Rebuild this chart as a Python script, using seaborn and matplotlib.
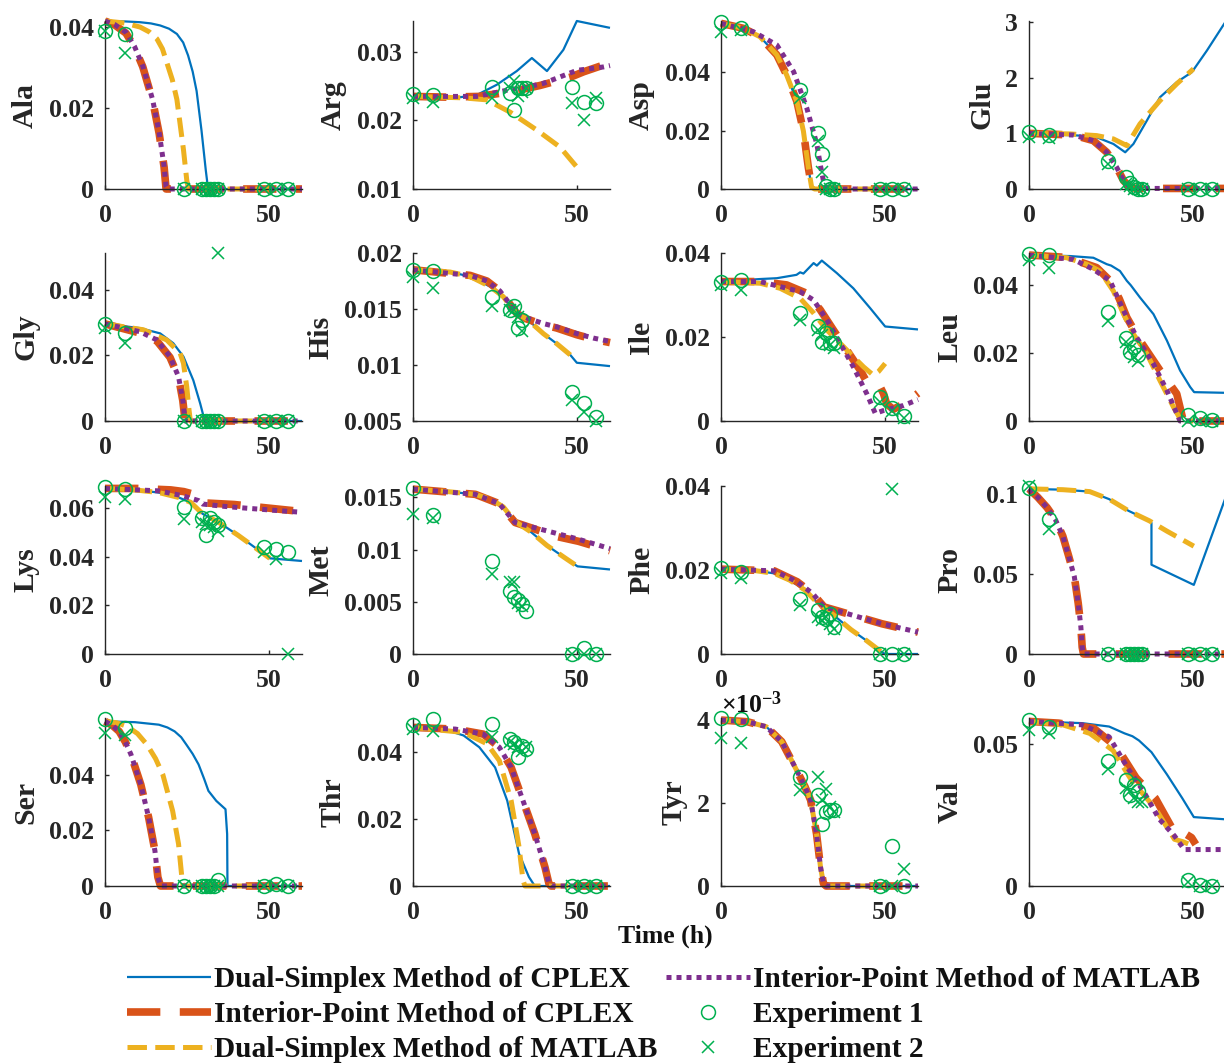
import matplotlib
matplotlib.use("Agg")
import matplotlib.pyplot as plt
import seaborn as sns

nan = float("nan")

# ---------------------------------------------------------------------------
# Data: simulated concentration profiles (time h, value) for the four solvers
# and the two experimental replicates sampled at T_EXP.
# ---------------------------------------------------------------------------
T_EXP = [0, 6, 24, 29.5, 30.7, 31.9, 33.1, 34.5, 48.3, 52.2, 55.8]

AMINO_ACIDS = ["Ala", "Arg", "Asp", "Glu", "Gly", "His", "Ile", "Leu",
               "Lys", "Met", "Phe", "Pro", "Ser", "Thr", "Tyr", "Val"]

METHODS = ["Dual-Simplex Method of CPLEX", "Interior-Point Method of CPLEX",
           "Dual-Simplex Method of MATLAB", "Interior-Point Method of MATLAB"]
EXPERIMENTS = ["Experiment 1", "Experiment 2"]

# Ala
ALA_DSC = [(0, .0415), (6, .0414), (10.7, .0412), (14, .0409), (16.8, .0404), (19.5, .0396),
           (21.9, .0383), (23.8, .0362), (25.3, .033), (26.7, .0290), (27.9, .0242),
           (29.4, .0144), (30.7, .0046), (31.4, 0), (60, 0)]
ALA_IPC = [(0, .0415), (3, .0405), (6.4, .0385), (9, .0350), (11.5, .0302), (14.5, .0219),
           (16.5, .0137), (18, .0054), (18.6, 0), (60, 0)]
ALA_DSM = [(0, .0415), (6, .0410), (10.7, .040), (13.5, .0388), (15.8, .0371), (17.5, .0346),
           (18.8, .0313), (20.5, .0270), (21.9, .0221), (23.9, .0097), (24.9, .0022), (25.4, 0),
           (50, 0)]
ALA_IPM = [(0, .0415), (3, .0406), (6.4, .0387), (9, .0352), (11.5, .0304), (14.5, .0221),
           (16.5, .0139), (18, .0056), (18.6, .0006), (19, 0), (60, 0)]
ALA_EXP1 = [.0391, .0383, 0, 0, 0, 0, 0, 0, 0, 0, 0]
ALA_EXP2 = [.039, .0337, 0, 0, 0, 0, 0, 0, 0, 0, 0]

# Arg
ARG_DSC = [(0, .0235), (11.3, .0232), (19.4, .0237), (25.5, .0252), (31.6, .0272), (36.2, .0291),
           (40.8, .0272), (45.8, .0303), (49.9, .0345), (60, .0335)]
ARG_IPC = [(0, .0235), (10, .0234), (20, .0235), (28.6, .0241), (32, .0244), (38.7, .0251),
           (47.9, .0263), (52, .0271), (60, .0284)]
ARG_DSM = [(0, .0235), (15, .0233), (22.5, .023), (29.6, .0212), (37.7, .0186), (44.8, .0161),
           (49.9, .0132)]
ARG_IPM = [(0, .0235), (19.4, .0235), (29.6, .0245), (34, .0248), (39.7, .0254), (49.9, .0273),
           (58, .0278), (60, .028)]
ARG_EXP1 = [.0239, .0237, .0249, .024, .0215, .0247, .0247, .0247, .0249, .0227, .0225]
ARG_EXP2 = [.0232, .0227, .0232, .0247, .0257, .0235, .0242, .0247, .0225, .020, .0232]

# Asp
ASP_DSC = [(0, .0567), (6.8, .055), (11.9, .0521), (17, .0459), (20, .039), (23.1, .030),
           (25.1, .0198), (26.6, .0074), (27.6, .0006), (28.5, 0), (60, 0)]
ASP_IPC = [(0, .0567), (6.8, .055), (11.9, .0521), (17, .0459), (20, .039), (23.1, .030),
           (25.1, .0198), (26.6, .0074), (27.6, .0006), (28.5, 0), (60, 0)]
ASP_DSM = [(0, .0567), (6.8, .055), (11.9, .0521), (17, .0459), (20, .039), (23.1, .030),
           (25.1, .0198), (26.6, .0074), (27.6, .0006), (28.5, 0), (50, 0)]
ASP_IPM = [(0, .0567), (9.9, .0538), (17, .0493), (22.1, .0402), (26.1, .0278), (29.2, .0153),
           (30.2, .0085), (31.2, .0028), (32.2, 0), (60, 0)]
ASP_EXP1 = [.057, .0552, .034, .0193, .0119, .0011, 0, 0, 0, 0, 0]
ASP_EXP2 = [.0538, .0544, .0312, .0164, .0057, 0, 0, 0, 0, 0, 0]

# Glu
GLU_DSC = [(0, 1.0), (15.5, .96), (20.6, .93), (25.7, .81), (29.3, .66), (31.8, .81), (35.9, 1.23),
           (39.9, 1.65), (45, 1.92), (49.6, 2.1), (54.2, 2.49), (60, 3.02)]
GLU_IPC = [(0, 1.0), (13.5, .97), (19.6, .87), (23.7, .66), (26.7, .39), (28.8, .15), (30.8, .03),
           (32.8, .01), (60, .01)]
GLU_DSM = [(0, 1.0), (12.5, .99), (20.6, .96), (25.7, .9), (29.8, .78), (33.8, 1.17), (39.9, 1.59),
           (45, 1.89), (50.1, 2.16)]
GLU_IPM = [(0, 1.0), (13.5, .97), (19.6, .87), (23.7, .66), (26.7, .39), (28.8, .15), (30.8, .03),
           (32.8, .01), (60, .01)]
GLU_EXP1 = [1.02, .97, .51, .21, .10, .03, 0, 0, 0, 0, 0]
GLU_EXP2 = [.93, .91, .45, .09, .05, 0, 0, 0, 0, 0, 0]

# Gly
GLY_DSC = [(0, .0296), (10.7, .0283), (16.8, .0267), (20.8, .0237), (23.9, .0196), (26.9, .0124),
           (29, .0053), (30.2, .0007), (30.5, 0), (60, 0)]
GLY_IPC = [(0, .0296), (10.7, .0268), (15.8, .0244), (19.8, .0194), (22.4, .0133), (23.7, .0062),
           (24.4, 0), (60, 0)]
GLY_DSM = [(0, .0296), (11.7, .0278), (18.8, .0247), (22.9, .0206), (23.9, .0176), (24.9, .0104),
           (25.6, .0033), (26, 0), (50, 0)]
GLY_IPM = [(0, .0296), (10.7, .0272), (15.8, .0247), (19.8, .0196), (22.4, .0135), (23.7, .0063),
           (24.4, 0), (60, 0)]
GLY_EXP1 = [.0296, .0267, 0, 0, 0, 0, 0, 0, 0, 0, 0]
GLY_EXP2 = [.0283, .0237, 0, 0, 0, 0, 0, .0512, 0, 0, 0]

# His
HIS_DSC = [(0, .0185), (11.3, .0183), (17.4, .0179), (23.5, .017), (27.5, .0161), (30.6, .0149),
           (32.1, .0145), (34.7, .0141), (39.7, .0128), (43.8, .0119), (47.9, .0109), (49.9, .0102),
           (60, .0099)]
HIS_IPC = [(0, .0185), (17.4, .018), (22.5, .0175), (26.5, .0166), (29.6, .0154), (31.6, .0146),
           (34.7, .0141), (39.7, .0136), (43.8, .0133), (49.9, .0127), (55, .0123), (60, .012)]
HIS_DSM = [(0, .0185), (11.3, .0183), (17.4, .0179), (23.5, .017), (27.5, .0161), (30.6, .0149),
           (32.1, .0145), (34.7, .0141), (39.7, .0128), (43.8, .0119), (47.9, .0109), (49, .0106)]
HIS_IPM = [(0, .0185), (17.4, .018), (22.5, .0175), (26.5, .0166), (29.6, .0154), (31.6, .0146),
           (34.7, .0142), (39.7, .0137), (43.8, .0134), (49.9, .0128), (55, .0124), (60, .0121)]
HIS_EXP1 = [.0185, .0184, .0161, .0149, .0153, .0133, .014, nan, .0076, .0066, .0054]
HIS_EXP2 = [.0179, .0169, .0153, .0149, .0149, .0143, .013, nan, .0069, .0058, .005]

# Ile
ILE_DSC = [(0, .0332), (11.9, .0338), (17, .034), (20, .0344), (23, .0348), (24.1, .0354),
           (25.1, .0351), (28.2, .0376), (29.2, .037), (30.7, .0382), (35.3, .0352), (40.3, .0316),
           (45.4, .0269), (50, .0225), (60, .0218)]
ILE_IPC = [(0, .0332), (11.9, .0332), (20, .0324), (26.1, .0304), (30.2, .0265), (34.2, .0217),
           (38.3, .0169), (42.4, .0121), (44.4, .0093), (46.5, .0082), (48.5, .0081), (49.5, .0065),
           (50.5, .004), (52.5, .0028), (56, .0042), (60, .0066)]
ILE_DSM = [(0, .0332), (11.9, .0328), (18, .0316), (24.1, .0292), (28.2, .0257), (32.2, .0217),
           (36.3, .0185), (40.3, .0153), (43.4, .0129), (46.4, .0109), (48, .0118), (50, .0137)]
ILE_IPM = [(0, .0332), (11.9, .0332), (18, .032), (24.1, .0308), (28.2, .0288), (32.2, .0241),
           (36.3, .0185), (40.3, .0129), (44.4, .0065), (47, .0018), (49.5, .0025), (55.6, .0037),
           (60, .0051)]
ILE_EXP1 = [.033, .0335, .0257, .0225, .0189, .0209, .0185, .0185, .0057, .003, .0011]
ILE_EXP2 = [.0324, .0312, .0241, .0217, .0205, .0189, .0181, .0173, .0045, .0025, .0008]

# Leu
LEU_DSC = [(0, .0489), (12.5, .0486), (19.6, .0481), (23.7, .0462), (25, .0458), (27.7, .0442),
           (29.8, .0413), (31, .040), (33.8, .0364), (37.9, .0315), (42, .0237), (46, .0149),
           (49.1, .010), (50.3, .0085), (60, .0083)]
LEU_IPC = [(0, .0489), (11.5, .0482), (20.6, .0452), (24.7, .0413), (27.5, .036), (29.8, .0305),
           (33.8, .0237), (39.9, .0149), (45, .008), (47, 0), (60, 0)]
LEU_DSM = [(0, .0489), (11.5, .0481), (17.6, .0462), (21.6, .0442), (25.7, .0383), (28.8, .0315),
           (31.8, .0256), (35.9, .0198), (39.9, .0119), (44, .0041), (46, .0007), (47, 0), (50, 0)]
LEU_IPM = [(0, .0489), (13.5, .0476), (19.6, .0447), (24.7, .0413), (28.8, .0325), (32.8, .0246),
           (37.9, .0168), (42, .009), (45, .0022), (46, 0), (60, 0)]
LEU_EXP1 = [.0491, .0489, .032, .0246, .0202, .0217, .0193, nan, .0017, .0009, .0004]
LEU_EXP2 = [.0473, .0452, .0295, .0232, .0212, .0188, .0178, nan, 0, 0, 0]

# Lys
LYS_DSC = [(0, .068), (9.1, .0674), (16.4, .0663), (22.4, .0643), (26.1, .0623), (29.7, .0576),
           (34.5, .0542), (40.6, .0487), (45.4, .044), (50.2, .0393), (60, .0382)]
LYS_IPC = [(0, .068), (9.7, .068), (20, .0674), (24, .0667), (27.3, .0655), (29.1, .0639),
           (31, .062), (39.3, .0614), (47.8, .0602), (60, .0585)]
LYS_DSM = [(0, .068), (9.1, .0674), (16.4, .0663), (22.4, .0643), (26.1, .0623), (29.7, .0576),
           (34.5, .0542), (40.6, .0487), (45.4, .044), (50.2, .0393)]
LYS_IPM = [(0, .068), (16.4, .067), (23.6, .065), (28.5, .063), (29.7, .0616), (35.7, .0607),
           (43, .0599), (52.7, .0589), (60, .0582)]
LYS_EXP1 = [.0684, .0677, .0603, .0558, .0487, .0558, .0542, .0531, .044, .0433, .042]
LYS_EXP2 = [.0643, .0636, .0555, .0544, .0535, .0528, .0521, .0504, .042, .039, 0]

# Met
MET_DSC = [(0, .0158), (9.3, .0156), (19, .0153), (23.8, .0148), (27.5, .0141), (31.1, .0127),
           (35.9, .0117), (40.8, .0104), (46.8, .0091), (50.1, .0084), (60, .0081)]
MET_IPC = [(0, .0158), (19, .0153), (26.3, .0144), (31.1, .0126), (35.9, .0121), (43.2, .0113),
           (50.4, .0108), (60, .0099)]
MET_DSM = [(0, .0158), (9.3, .0156), (19, .0153), (23.8, .0148), (27.5, .0141), (31.1, .0127),
           (35.9, .0117), (40.8, .0104), (46.8, .0091), (50.1, .0084)]
MET_IPM = [(0, .0158), (19, .0153), (26.3, .0144), (31.1, .0126), (35.9, .0122), (43.2, .0116),
           (50.4, .011), (60, .0101)]
MET_EXP1 = [.0159, .0133, .0089, .006, .0055, .0052, .0048, .0041, 0, .0006, 0]
MET_EXP2 = [.0134, .013, .0077, .0069, .0069, .0049, .0046, nan, 0, 0, 0]

# Phe
PHE_DSC = [(0, .0202), (9.1, .020), (16.2, .0192), (20.9, .0176), (25.6, .0152), (29.1, .0124),
           (32, .0108), (35, .0088), (39.6, .0058), (44.3, .0032), (49, .0004), (50, 0), (60, 0)]
PHE_IPC = [(0, .0202), (16.2, .0198), (23.2, .0172), (27.9, .0144), (31.4, .0112), (35, .0104),
           (42, .0088), (49, .0072), (60, .0052)]
PHE_DSM = [(0, .0202), (9.1, .020), (16.2, .0192), (20.9, .0176), (25.6, .0152), (29.1, .0124),
           (32, .0108), (35, .0088), (39.6, .0058), (44.3, .0032), (49, .0004), (50, 0)]
PHE_IPM = [(0, .0202), (16.2, .0198), (23.2, .0172), (27.9, .0144), (31.4, .0112), (35, .0104),
           (42, .0088), (49, .0072), (60, .0052)]
PHE_EXP1 = [.0204, .0196, .0132, .0104, .0088, .0084, .0096, .0064, 0, 0, 0]
PHE_EXP2 = [.0192, .018, .0116, .0088, .008, .0088, .0072, .006, 0, .0392, 0]

# Pro
PRO_DSC = [(0, .1032), (10.3, .1027), (18.5, .1015), (24.4, .0968), (30.3, .0895), (36.7, .0832),
           (37.3, .082), (37.3, .0558), (50.2, .0432), (60, .0985)]
PRO_IPC = [(0, .1032), (2.7, .0979), (5.5, .0915), (8, .0842), (10.3, .0737), (12.1, .0611),
           (13.8, .0484), (15, .0316), (15.8, .0168), (16.2, .0042), (16.6, 0), (60, 0)]
PRO_DSM = [(0, .1032), (10.3, .1027), (18.5, .1015), (24.4, .0968), (30.3, .0895), (36.7, .0832),
           (42, .0768), (50.2, .0674)]
PRO_IPM = [(0, .1032), (2.7, .0979), (5.5, .0915), (8, .0842), (10.3, .0737), (12.1, .0611),
           (13.8, .0484), (15, .0316), (15.8, .0168), (16.2, .0042), (16.6, 0), (60, 0)]
PRO_EXP1 = [.1036, .0842, 0, 0, 0, 0, 0, 0, 0, 0, 0]
PRO_EXP2 = [.1048, .0779, 0, 0, 0, 0, 0, 0, 0, 0, 0]

# Ser
SER_DSC = [(0, .0592), (9.1, .0589), (16.4, .058), (19, .0570), (21.2, .0556), (23.2, .0535),
           (24.8, .0508), (26.7, .0475), (28.5, .0437), (30.2, .0385), (31.5, .0342), (33.9, .0306),
           (36.7, .0276), (37.2, .0187), (37.3, 0), (60, 0)]
SER_IPC = [(0, .0592), (2.2, .0578), (4.3, .0556), (6.2, .0518), (7.9, .0473), (10.9, .0365),
           (13.3, .0246), (15.2, .0127), (16.1, .0032), (16.9, 0), (60, 0)]
SER_DSM = [(0, .0592), (3.5, .0587), (6.7, .0574), (9.9, .0548), (12.8, .0508), (15.4, .0458),
           (17.6, .0401), (20.6, .027), (22.4, .0151), (23.4, .0032), (23.8, 0), (50, 0)]
SER_IPM = [(0, .0592), (2.2, .0578), (4.3, .0556), (6.2, .0518), (7.9, .0473), (10.9, .0365),
           (13.3, .0246), (15.2, .0127), (16.1, .0032), (16.9, 0), (60, 0)]
SER_EXP1 = [.0601, .0568, 0, 0, 0, 0, 0, .002, 0, .0008, 0]
SER_EXP2 = [.055, .0544, 0, 0, 0, 0, 0, 0, 0, 0, 0]

# Thr
THR_DSC = [(0, .0472), (9.3, .0467), (15.4, .0448), (20.2, .0413), (25, .0353), (28.7, .0254),
           (32.3, .0096), (35.3, .0027), (37.1, 0), (60, 0)]
THR_IPC = [(0, .0472), (12.9, .0467), (21.4, .0452), (26.3, .0413), (29.9, .0353), (33.5, .0254),
           (37.1, .0155), (40.2, .0056), (41.4, .0007), (42, 0), (60, 0)]
THR_DSM = [(0, .0472), (15.4, .0457), (22.6, .0423), (26.3, .0373), (29.9, .0254), (32.3, .0116),
           (33.5, .0017), (34.1, 0), (50, 0)]
THR_IPM = [(0, .0472), (12.9, .0467), (21.4, .0452), (26.3, .0413), (29.9, .0353), (33.5, .0254),
           (37.1, .0155), (40.2, .0056), (41.4, .0007), (42, 0), (60, 0)]
THR_EXP1 = [.048, .0497, .0482, .0438, .0428, .0383, .0418, .0408, 0, 0, 0]
THR_EXP2 = [.0467, .0462, .0443, .0428, .0423, .0413, .0403, .0413, 0, 0, 0]

# Tyr (x 10^-3)
TYR_DSC = [(0, 4.0), (8, 3.96), (13.8, 3.84), (18.5, 3.48), (22, 2.95), (25.6, 2.39), (27.3, 2.07),
           (29.1, 1.26), (30.3, .46), (31.2, .06), (32, 0), (60, 0)]
TYR_IPC = [(0, 4.0), (8, 3.96), (13.8, 3.84), (18.5, 3.48), (22, 2.95), (25.6, 2.39), (27.3, 2.07),
           (29.1, 1.26), (30.3, .46), (31.2, .06), (32, 0), (60, 0)]
TYR_DSM = [(0, 4.0), (8, 3.96), (13.8, 3.84), (18.5, 3.48), (22, 2.95), (25.6, 2.39), (27.3, 2.07),
           (29.1, 1.26), (30.3, .46), (31.2, .06), (32, 0), (50, 0)]
TYR_IPM = [(0, 4.0), (8, 3.96), (13.8, 3.84), (18.5, 3.48), (22, 2.95), (25.6, 2.39), (27.3, 2.07),
           (29.1, 1.26), (30.3, .46), (31.2, .06), (32, 0), (60, 0)]
TYR_EXP1 = [4.04, 4.02, 2.62, 2.19, 1.5, 1.79, 1.83, 1.83, 0, .97, 0]
TYR_EXP2 = [3.56, 3.45, 2.31, 2.62, 2.07, 2.35, 1.91, 1.79, 0, 0, .42]

# Val
VAL_DSC = [(0, .0578), (16.2, .0572), (24.4, .056), (29.1, .0536), (31.5, .0526), (33.5, .0511),
           (37.3, .047), (42, .0392), (46.7, .0308), (50.2, .0242), (60, .0234)]
VAL_IPC = [(0, .0578), (9, .0572), (19.7, .0554), (26.7, .0488), (32.6, .038), (38.5, .0308),
           (44.3, .0188), (46, .0184), (47.8, .0182), (49.5, .017), (50.8, .0146)]
VAL_DSM = [(0, .0578), (10.3, .0566), (18.5, .0536), (25.6, .0476), (31.4, .0368), (38.5, .0272),
           (44.3, .0164), (47, .0155), (50.2, .014)]
VAL_IPM = [(0, .0578), (16.2, .0566), (24.4, .0524), (30.3, .041), (34.9, .0332), (39.6, .0236),
           (44.3, .0176), (47.3, .0128), (60, .0128)]
VAL_EXP1 = [.0582, .056, .044, .0374, .032, .0356, .0332, nan, .002, .0003, 0]
VAL_EXP2 = [.0548, .0536, .041, .0344, .0332, .0308, .0296, .0294, .0014, 0, 0]

SIMULATIONS = {
    "Ala": (ALA_DSC, ALA_IPC, ALA_DSM, ALA_IPM), "Arg": (ARG_DSC, ARG_IPC, ARG_DSM, ARG_IPM),
    "Asp": (ASP_DSC, ASP_IPC, ASP_DSM, ASP_IPM), "Glu": (GLU_DSC, GLU_IPC, GLU_DSM, GLU_IPM),
    "Gly": (GLY_DSC, GLY_IPC, GLY_DSM, GLY_IPM), "His": (HIS_DSC, HIS_IPC, HIS_DSM, HIS_IPM),
    "Ile": (ILE_DSC, ILE_IPC, ILE_DSM, ILE_IPM), "Leu": (LEU_DSC, LEU_IPC, LEU_DSM, LEU_IPM),
    "Lys": (LYS_DSC, LYS_IPC, LYS_DSM, LYS_IPM), "Met": (MET_DSC, MET_IPC, MET_DSM, MET_IPM),
    "Phe": (PHE_DSC, PHE_IPC, PHE_DSM, PHE_IPM), "Pro": (PRO_DSC, PRO_IPC, PRO_DSM, PRO_IPM),
    "Ser": (SER_DSC, SER_IPC, SER_DSM, SER_IPM), "Thr": (THR_DSC, THR_IPC, THR_DSM, THR_IPM),
    "Tyr": (TYR_DSC, TYR_IPC, TYR_DSM, TYR_IPM), "Val": (VAL_DSC, VAL_IPC, VAL_DSM, VAL_IPM),
}
MEASUREMENTS = {
    "Ala": (ALA_EXP1, ALA_EXP2), "Arg": (ARG_EXP1, ARG_EXP2), "Asp": (ASP_EXP1, ASP_EXP2),
    "Glu": (GLU_EXP1, GLU_EXP2), "Gly": (GLY_EXP1, GLY_EXP2), "His": (HIS_EXP1, HIS_EXP2),
    "Ile": (ILE_EXP1, ILE_EXP2), "Leu": (LEU_EXP1, LEU_EXP2), "Lys": (LYS_EXP1, LYS_EXP2),
    "Met": (MET_EXP1, MET_EXP2), "Phe": (PHE_EXP1, PHE_EXP2), "Pro": (PRO_EXP1, PRO_EXP2),
    "Ser": (SER_EXP1, SER_EXP2), "Thr": (THR_EXP1, THR_EXP2), "Tyr": (TYR_EXP1, TYR_EXP2),
    "Val": (VAL_EXP1, VAL_EXP2),
}

# Axis ranges and ticks for each panel
Y_LIMITS = {
    "Ala": (0, .0415), "Arg": (.01, .0345), "Asp": (0, .0575), "Glu": (0, 3.02),
    "Gly": (0, .0512), "His": (.005, .02), "Ile": (0, .04), "Leu": (0, .0495),
    "Lys": (0, .069), "Met": (0, .0161), "Phe": (0, .04), "Pro": (0, .105),
    "Ser": (0, .0604), "Thr": (0, .05), "Tyr": (0, 4.05), "Val": (0, .059),
}
Y_TICKS = {
    "Ala": [0, .02, .04], "Arg": [.01, .02, .03], "Asp": [0, .02, .04], "Glu": [0, 1, 2, 3],
    "Gly": [0, .02, .04], "His": [.005, .01, .015, .02], "Ile": [0, .02, .04],
    "Leu": [0, .02, .04], "Lys": [0, .02, .04, .06], "Met": [0, .005, .01, .015],
    "Phe": [0, .02, .04], "Pro": [0, .05, .1], "Ser": [0, .02, .04], "Thr": [0, .02, .04],
    "Tyr": [0, 2, 4], "Val": [0, .05],
}
X_TICKS = [0, 50]

# ---------------------------------------------------------------------------
# Styling
# ---------------------------------------------------------------------------
sns.set_theme(style="ticks")
FONT = ["Liberation Serif", "DejaVu Serif"]
plt.rcParams.update({
    "font.family": FONT,
    "font.weight": "bold",
    "axes.labelweight": "bold",
    "lines.scale_dashes": False,
    "mathtext.fontset": "custom",
    "mathtext.rm": "Liberation Serif:bold",
    "mathtext.bf": "Liberation Serif:bold",
    "mathtext.it": "Liberation Serif:bold:italic",
    "xtick.direction": "in",
    "ytick.direction": "in",
    "axes.edgecolor": "#262626",
    "xtick.color": "#262626",
    "ytick.color": "#262626",
    "text.color": "#111111",
})

GREEN = "#00B050"
LINE_STYLES = [
    dict(color="#0072BD", lw=1.6, ls="-", z=2.0),
    dict(color="#D95319", lw=5.5, ls=(0, (24, 14)), z=2.1),
    dict(color="#EDB120", lw=3.6, ls=(0, (14, 6)), z=2.2),
    dict(color="#7E2F8E", lw=3.6, ls=(0, (3.6, 3.6)), z=2.3),
]
MARKER_STYLES = [dict(marker="o", ms=10, mew=1.1), dict(marker="x", ms=9, mew=1.1)]

TICK_SIZE = 18.5
LABEL_SIZE = 21.5

FIG_W, FIG_H = 1224, 1064
LEFTS_PX = [105, 413, 721, 1029]
TOPS_PX = [21, 253, 486, 718]
AX_W_PX, AX_H_PX = 197, 168

fig = plt.figure(figsize=(FIG_W / 100, FIG_H / 100), dpi=100)

legend_handles = None
for idx, name in enumerate(AMINO_ACIDS):
    r, c = divmod(idx, 4)
    rect = [LEFTS_PX[c] / FIG_W, 1 - (TOPS_PX[r] + AX_H_PX) / FIG_H,
            AX_W_PX / FIG_W, AX_H_PX / FIG_H]
    ax = fig.add_axes(rect)

    handles = []
    for pts, st in zip(SIMULATIONS[name], LINE_STYLES):
        sns.lineplot(x=[p[0] for p in pts], y=[p[1] for p in pts], ax=ax,
                     estimator=None, sort=False, legend=False,
                     color=st["color"], lw=st["lw"], linestyle=st["ls"],
                     solid_capstyle="butt", dash_capstyle="butt",
                     solid_joinstyle="round", dash_joinstyle="round",
                     clip_on=False, zorder=st["z"])
        handles.append(ax.lines[-1])
    for vals, st in zip(MEASUREMENTS[name], MARKER_STYLES):
        sns.lineplot(x=T_EXP, y=vals, ax=ax, estimator=None, sort=False, legend=False,
                     color=GREEN, linestyle="none", marker=st["marker"], ms=st["ms"],
                     mfc="none", mec=GREEN, mew=st["mew"], clip_on=False, zorder=3)
        handles.append(ax.lines[-1])
    if legend_handles is None:
        legend_handles = handles

    ax.set_xlim(0, 60)
    ax.set_ylim(*Y_LIMITS[name])
    ax.set_xticks(X_TICKS)
    ax.set_xticklabels([f"{v:g}" for v in X_TICKS])
    ax.set_yticks(Y_TICKS[name])
    ax.set_yticklabels([f"{v:g}" for v in Y_TICKS[name]])
    ax.tick_params(labelsize=TICK_SIZE, length=3, width=1)
    ax.tick_params(axis="x", pad=11)
    ax.tick_params(axis="y", pad=8)
    for lab in ax.get_xticklabels() + ax.get_yticklabels():
        lab.set_fontweight("bold")
    ax.set_xlabel("")
    ax.set_ylabel(name, fontsize=LABEL_SIZE, fontweight="bold", labelpad=7)
    ax.spines[["top", "right"]].set_visible(False)
    for sp in ("left", "bottom"):
        ax.spines[sp].set_linewidth(1.0)
    ax.set_facecolor("none")

    if name == "Tyr":
        ax.text(0.0, 1.0, "×10$^{\\mathregular{-3}}$", transform=ax.transAxes,
                ha="left", va="bottom", fontsize=TICK_SIZE, fontweight="bold")

fig.text(665 / FIG_W, 1 - 936 / FIG_H, "Time (h)", ha="center", va="center",
         fontsize=TICK_SIZE, fontweight="bold")

fig.legend(legend_handles, METHODS + EXPERIMENTS, loc="upper left",
           bbox_to_anchor=(127 / FIG_W, 1 - 966 / FIG_H), ncol=2, frameon=False,
           prop=dict(family=FONT, weight="bold", size=21.2), handlelength=2.85,
           handletextpad=0.1, columnspacing=0.3, labelspacing=0.27,
           borderpad=0, borderaxespad=0, numpoints=1)

fig.savefig("out.png", dpi=100, facecolor="white")
